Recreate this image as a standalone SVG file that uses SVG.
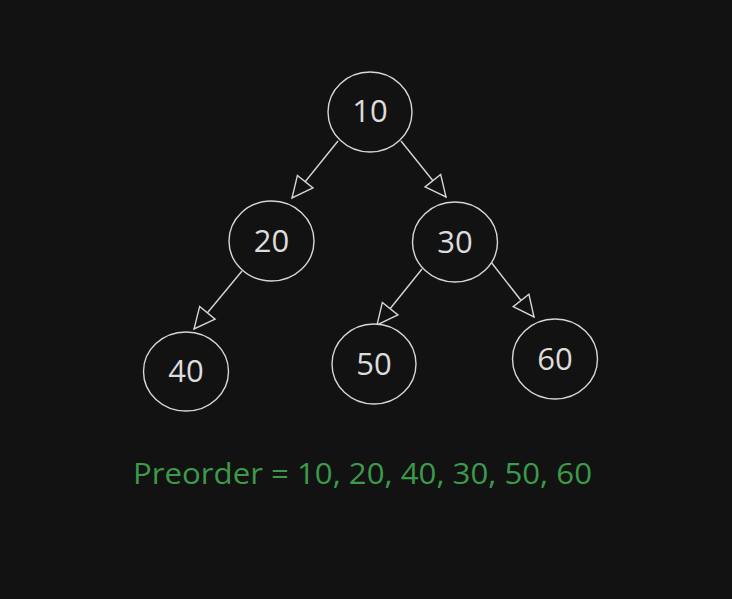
<svg xmlns="http://www.w3.org/2000/svg" width="732" height="599" viewBox="0 0 732 599">
<style>
.node ellipse{fill:#121212;stroke:#d6d6d6;stroke-width:1.4}
.node text{font-family:"Open Sans","Noto Sans",sans-serif;font-size:31px;fill:#dcdcdc;text-anchor:middle}
.edge{stroke:#d6d6d6;stroke-width:1.4;fill:none;marker-end:url(#arr)}
.caption{font-family:"Open Sans","Noto Sans",sans-serif;font-size:30px;fill:#3c9a4b}
</style>
<defs>
<marker id="arr" viewBox="0 0 24 24" refX="22" refY="12" markerWidth="24" markerHeight="24" markerUnits="userSpaceOnUse" orient="auto">
<path d="M1,2 L22,12 L1,22 Z" fill="#121212" stroke="#d6d6d6" stroke-width="1.4" stroke-linejoin="miter"/>
</marker>
</defs>
<rect width="732" height="599" fill="#121212"/>
<g id="connectors">
<line class="edge" x1="338" y1="141" x2="292" y2="198"/>
<line class="edge" x1="401" y1="141" x2="446" y2="197"/>
<line class="edge" x1="242" y1="271" x2="194" y2="329"/>
<line class="edge" x1="422" y1="269" x2="377" y2="325"/>
<line class="edge" x1="491" y1="262" x2="534" y2="317"/>
</g>
<g id="n10" class="node"><ellipse cx="370" cy="112" rx="42" ry="40"/><text x="370" y="122">10</text></g>
<g id="n20" class="node"><ellipse cx="271.5" cy="241" rx="42.5" ry="40"/><text x="271.5" y="252">20</text></g>
<g id="n30" class="node"><ellipse cx="455" cy="242" rx="42.5" ry="40"/><text x="455" y="253">30</text></g>
<g id="n40" class="node"><ellipse cx="186" cy="371.5" rx="42.5" ry="39.5"/><text x="186" y="382">40</text></g>
<g id="n50" class="node"><ellipse cx="374" cy="364" rx="42" ry="40"/><text x="374" y="375">50</text></g>
<g id="n60" class="node"><ellipse cx="555" cy="359" rx="42.5" ry="40"/><text x="555" y="370">60</text></g>
<text class="caption" x="133" y="484" textLength="459" lengthAdjust="spacingAndGlyphs">Preorder = 10, 20, 40, 30, 50, 60</text>
</svg>
